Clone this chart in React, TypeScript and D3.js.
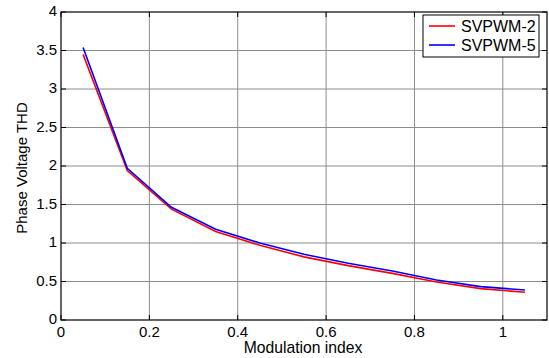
import React from "react";
import * as d3 from "d3";

const xValues = [0.05, 0.15, 0.25, 0.35, 0.45, 0.55, 0.65, 0.75, 0.85, 0.95, 1.05];
const svpwm2 = [3.45, 1.94, 1.44, 1.15, 0.97, 0.82, 0.706, 0.606, 0.494, 0.407, 0.36];
const svpwm5 = [3.54, 1.97, 1.464, 1.178, 1.0, 0.853, 0.736, 0.636, 0.52, 0.433, 0.39];
const xTicks = [0, 0.2, 0.4, 0.6, 0.8, 1];
const yTicks = [0, 0.5, 1, 1.5, 2, 2.5, 3, 3.5, 4];
const seriesNames = ["SVPWM-2", "SVPWM-5"];
const seriesColors = ["#ff0000", "#0000ff"];

export default function App() {
  const W = 549, H = 358;
  const left = 61, right = 547, top = 12, bottom = 320;
  const x = d3.scaleLinear().domain([0, 1.1]).range([left, right]);
  const y = d3.scaleLinear().domain([0, 4]).range([bottom, top]);
  const line = d3.line<number>().x((_, i) => x(xValues[i])).y((d) => y(d));
  const series = [svpwm2, svpwm5];
  const font = "Arial, 'Liberation Sans', Helvetica, sans-serif";
  const tl = 5;
  return (
    <svg width={W} height={H} style={{ position: "absolute", left: 0, top: 0, background: "#fff" }} fontFamily={font}>
      <rect x={0} y={0} width={W} height={H} fill="#fff" />
      {xTicks.slice(1).map((t) => (
        <line key={"gx" + t} x1={x(t)} x2={x(t)} y1={top} y2={bottom} stroke="#8c8c8c" strokeWidth={1} />
      ))}
      {yTicks.slice(1, -1).map((t) => (
        <line key={"gy" + t} x1={left} x2={right} y1={y(t)} y2={y(t)} stroke="#8c8c8c" strokeWidth={1} />
      ))}
      {xTicks.map((t) => (
        <g key={"tx" + t}>
          <line x1={x(t)} x2={x(t)} y1={bottom} y2={bottom - tl} stroke="#000" />
          <line x1={x(t)} x2={x(t)} y1={top} y2={top + tl} stroke="#000" />
          <text x={x(t)} y={bottom + 17} textAnchor="middle" fontSize={15} fill="#000">{String(t)}</text>
        </g>
      ))}
      {yTicks.map((t) => (
        <g key={"ty" + t}>
          <line x1={left} x2={left + tl} y1={y(t)} y2={y(t)} stroke="#000" />
          <line x1={right} x2={right - tl} y1={y(t)} y2={y(t)} stroke="#000" />
          <text x={left - 4} y={y(t) + 4} textAnchor="end" fontSize={15} fill="#000">{String(t)}</text>
        </g>
      ))}
      {series.map((s, i) => (
        <path key={"s" + i} d={line(s) || ""} fill="none" stroke={seriesColors[i]} strokeWidth={1.6} />
      ))}
      <rect x={left} y={top} width={right - left} height={bottom - top} fill="none" stroke="#000" strokeWidth={1.2} />
      <g>
        <rect x={423} y={15} width={116} height={42} fill="#fff" stroke="#000" strokeWidth={1} />
        {seriesNames.map((n, i) => (
          <g key={"l" + i}>
            <line x1={429} x2={455} y1={26 + i * 19} y2={26 + i * 19} stroke={seriesColors[i]} strokeWidth={1.6} />
            <text x={461} y={31.5 + i * 19} fontSize={16} fill="#000">{n}</text>
          </g>
        ))}
      </g>
      <text x={(left + right) / 2 - 1} y={353} textAnchor="middle" fontSize={15.7} fill="#000">Modulation index</text>
      <text transform={`translate(27, ${(top + bottom) / 2 + 2}) rotate(-90)`} textAnchor="middle" fontSize={15} fill="#000">Phase Voltage THD</text>
    </svg>
  );
}
